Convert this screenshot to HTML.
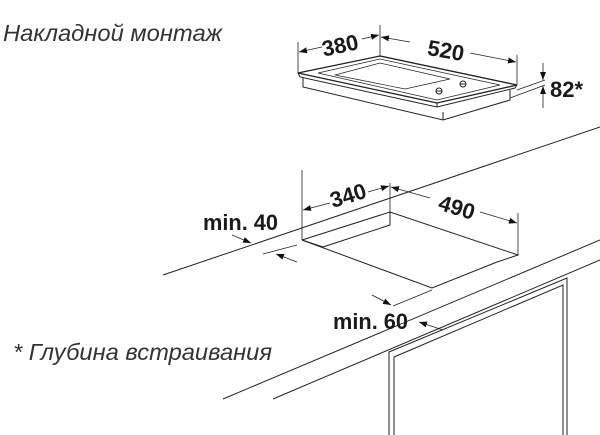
<!DOCTYPE html>
<html><head><meta charset="utf-8"><style>
html,body{margin:0;padding:0;background:#fff;}
svg{display:block;}
text{font-family:"Liberation Sans",sans-serif;fill:#1a1a1a;}
.b{font-weight:bold;font-size:22px;}
.i{font-style:italic;font-size:23.5px;fill:#333;}
</style></head><body>
<svg width="600" height="435" viewBox="0 0 600 435" xmlns="http://www.w3.org/2000/svg">
<defs>
<marker id="a" markerWidth="8" markerHeight="6" refX="8" refY="3" orient="auto" markerUnits="userSpaceOnUse"><path d="M0,0 L8,3 L0,6 z" fill="#111"/></marker>
</defs>
<text x="3" y="41" class="i" textLength="219" lengthAdjust="spacingAndGlyphs">Накладной монтаж</text>
<text x="13" y="360" class="i" textLength="259" lengthAdjust="spacingAndGlyphs">* Глубина встраивания</text>
<g stroke="#222" stroke-width="1" fill="none">
<polygon points="298,73 380,56 517,85 437,103" fill="#fff" stroke-width="1.3"/>
<polyline points="298,73 300,77 437,107 515,88 517,85"/>
<line x1="437" y1="103" x2="437" y2="107"/>
<polyline points="303,78 303,87 443,120 510,100 510,90"/>
<line x1="443" y1="112" x2="443" y2="120"/>
<polygon points="318,73 380,59 500,85 437,100" stroke-width="0.7"/>
<polygon points="335,75 380,63 450,79 405,89" stroke-width="0.7"/>
<ellipse cx="439" cy="91" rx="3" ry="3"/><line x1="436" y1="91" x2="442" y2="91"/>
<ellipse cx="463" cy="84" rx="3" ry="3"/><line x1="460" y1="84" x2="466" y2="84"/>
<g stroke-width="0.8">
<line x1="298" y1="42" x2="298" y2="73"/>
<line x1="380" y1="25" x2="380" y2="56"/>
<line x1="517" y1="55" x2="517" y2="85"/>
<line x1="322" y1="47" x2="299" y2="52" marker-end="url(#a)"/>
<line x1="362" y1="39" x2="379" y2="35" marker-end="url(#a)"/>
<line x1="410" y1="42" x2="381" y2="37" marker-end="url(#a)"/>
<line x1="470" y1="53" x2="516" y2="62" marker-end="url(#a)"/>
<line x1="510" y1="98" x2="545" y2="85"/>
<line x1="517" y1="90" x2="545" y2="80"/>
<line x1="543" y1="63" x2="543" y2="80" marker-end="url(#a)"/>
<line x1="543" y1="108" x2="543" y2="86" marker-end="url(#a)"/>
</g>
<line x1="163" y1="275" x2="600" y2="127"/>
<line x1="223" y1="399" x2="600" y2="240"/>
<line x1="273" y1="399" x2="600" y2="260"/>
<polyline points="389,435 389,352 567,278 567,435"/>
<polyline points="394,435 394,357 563,285 563,435"/>
<polyline points="302,240 390,212 518,255 497,262 432,288 302,240"/>
<polyline points="323,247 390,225 390,212"/>
<line x1="323" y1="247" x2="302" y2="240"/>
<g stroke-width="0.8">
<line x1="302" y1="170" x2="302" y2="240"/>
<line x1="390" y1="183" x2="390" y2="212"/>
<line x1="518" y1="213" x2="518" y2="255"/>
<line x1="330" y1="203" x2="303" y2="210" marker-end="url(#a)"/>
<line x1="368" y1="192" x2="389" y2="186" marker-end="url(#a)"/>
<line x1="430" y1="198" x2="391" y2="187" marker-end="url(#a)"/>
<line x1="480" y1="212" x2="517" y2="223" marker-end="url(#a)"/>
<line x1="232" y1="235" x2="251" y2="243" marker-end="url(#a)"/>
<line x1="263" y1="254" x2="297" y2="245"/>
<line x1="297" y1="262" x2="276" y2="254" marker-end="url(#a)"/>
<line x1="372" y1="295" x2="391" y2="305" marker-end="url(#a)"/>
<line x1="393" y1="306" x2="432" y2="290"/>
<line x1="443" y1="330" x2="419" y2="322" marker-end="url(#a)"/>
</g>
</g>
<text class="b" x="340" y="53" text-anchor="middle" transform="rotate(-12 340 45)">380</text>
<text class="b" x="446" y="58" text-anchor="middle" transform="rotate(10 446 50)">520</text>
<text class="b" x="550" y="97">82*</text>
<text class="b" x="348" y="203" text-anchor="middle" transform="rotate(-17 348 195)">340</text>
<text class="b" x="457" y="215" text-anchor="middle" transform="rotate(17 457 207)">490</text>
<text class="b" x="203" y="230" textLength="75" lengthAdjust="spacingAndGlyphs">min. 40</text>
<text class="b" x="333" y="329" textLength="75" lengthAdjust="spacingAndGlyphs">min. 60</text>
</svg>
</body></html>
